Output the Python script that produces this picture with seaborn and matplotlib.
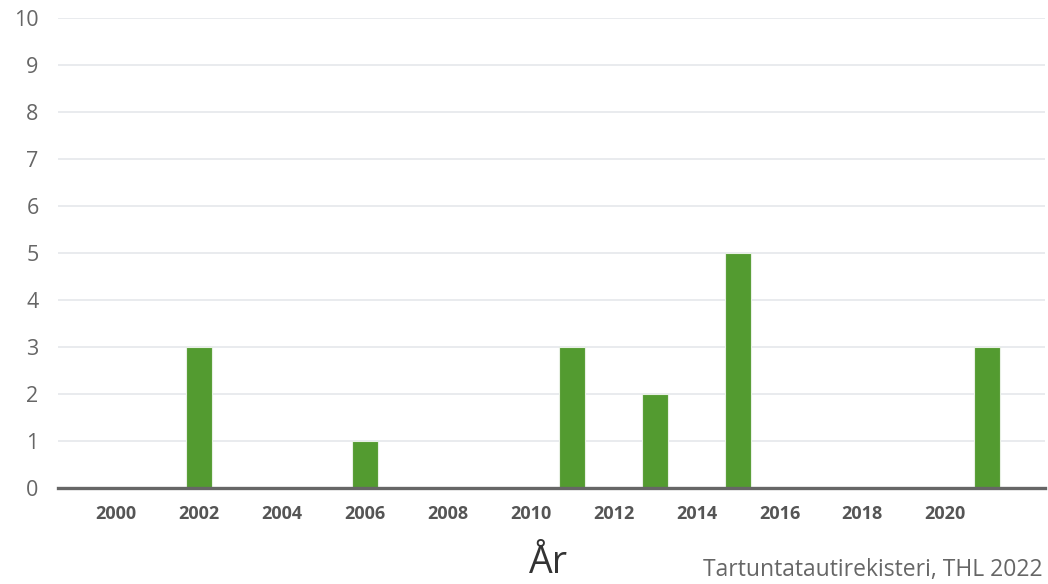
import pandas as pd
import seaborn as sns
import matplotlib
import matplotlib.pyplot as plt

matplotlib.use("Agg")

# Data
years = list(range(2000, 2022))
counts = [0, 0, 3, 0, 0, 0, 1, 0, 0, 0, 0, 3, 0, 2, 0, 5, 0, 0, 0, 0, 0, 3]
tick_years = list(range(2000, 2021, 2))
y_ticks = list(range(0, 11))

df = pd.DataFrame({"Vuosi": years, "Tapaukset": counts})

sns.set_theme(style="white")
plt.rcParams["font.family"] = ["Open Sans", "DejaVu Sans"]

fig = plt.figure(figsize=(10.48, 5.84), dpi=100)
ax = fig.add_axes([0.0553, 0.1644, 0.9417, 0.8046])

sns.barplot(data=df, x="Vuosi", y="Tapaukset", native_scale=True, width=0.62,
            color="#539b30", saturation=1, edgecolor="#e8f0e4", linewidth=0.8,
            ax=ax, zorder=3)

ax.set_xlim(1998.6, 2022.4)
ax.set_ylim(0, 10)
ax.set_yticks(y_ticks)
ax.set_xticks(tick_years)
ax.set_xticklabels([str(y) for y in tick_years], fontsize=13, fontweight="bold", color="#555555")
ax.set_yticklabels([str(v) for v in y_ticks], fontsize=15.5, color="#666666")
ax.tick_params(axis="x", length=0, pad=12)
ax.tick_params(axis="y", length=0, pad=14)

ax.grid(axis="y", color="#e3e6ea", linewidth=1.1, zorder=0)
ax.set_axisbelow(True)
for side in ["top", "right", "left"]:
    ax.spines[side].set_visible(False)
ax.spines["bottom"].set_color("#666666")
ax.spines["bottom"].set_linewidth(2.4)
ax.spines["bottom"].set_zorder(4)
ax.set_xlabel("")
ax.set_ylabel("")

# axis title sits at the very bottom edge, as in the original
fig.text(0.523, 0.004, "År", fontsize=27, color="#333333", ha="center", va="bottom")
fig.text(0.995, 0.003, "Tartuntatautirekisteri, THL 2022", fontsize=16.5, color="#666666",
         ha="right", va="bottom")

fig.savefig("out.png", dpi=100)
plt.close(fig)
